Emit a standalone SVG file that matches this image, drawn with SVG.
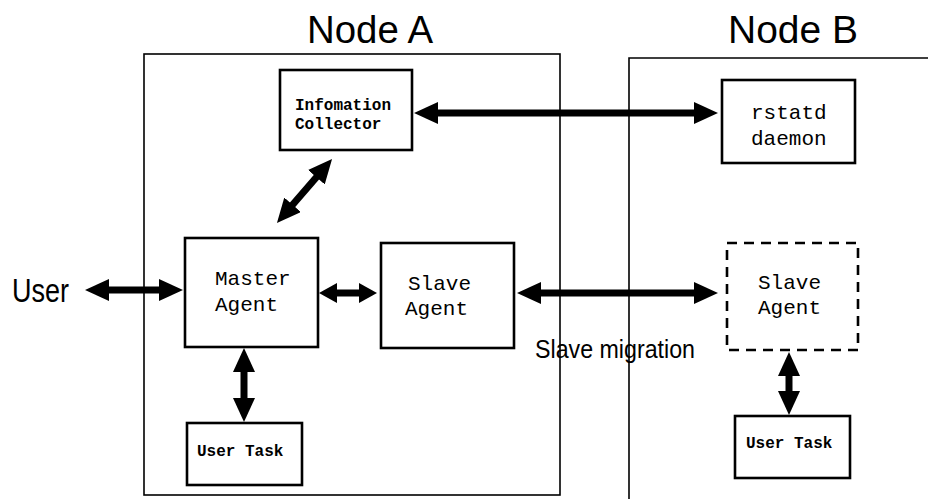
<svg xmlns="http://www.w3.org/2000/svg" width="928" height="499" viewBox="0 0 928 499">
<defs>
<style>
.cont{fill:none;stroke:#000;stroke-width:1.6}
.box{fill:#fff;stroke:#000;stroke-width:2.6}
.dash{fill:none;stroke:#000;stroke-width:2.6;stroke-dasharray:10 7}
.mono{font-family:"Liberation Mono","DejaVu Sans Mono",monospace;fill:#000}
.sm{font-size:16px;font-weight:bold}
.lg{font-size:21px}
.sans{font-family:"Liberation Sans",Arial,sans-serif;fill:#000}
.arr{stroke:#000;stroke-width:7;fill:none;marker-start:url(#ah);marker-end:url(#ah)}
.arrs{stroke:#000;stroke-width:7;fill:none;marker-start:url(#ahs);marker-end:url(#ahs)}
</style>
<marker id="ah" markerUnits="userSpaceOnUse" markerWidth="24" markerHeight="22" refX="4" refY="11" orient="auto-start-reverse" viewBox="0 0 24 22">
<path d="M0,0 L24,11 L0,22 z" fill="#000"/>
</marker>
<marker id="ahs" markerUnits="userSpaceOnUse" markerWidth="18" markerHeight="20" refX="2" refY="10" orient="auto-start-reverse" viewBox="0 0 18 20">
<path d="M0,0 L18,10 L0,20 z" fill="#000"/>
</marker>
</defs>
<rect width="928" height="499" fill="#fff"/>

<g id="nodeA">
<rect class="cont" x="144" y="54" width="416" height="441"/>
<text class="sans" x="307" y="43" font-size="38" textLength="126" lengthAdjust="spacingAndGlyphs">Node A</text>
</g>
<g id="nodeB">
<path class="cont" d="M629,499 L629,58 L928,58"/>
<text class="sans" x="728" y="43" font-size="38" textLength="130" lengthAdjust="spacingAndGlyphs">Node B</text>
</g>

<g id="connectors">
<line class="arr" x1="434" y1="113" x2="698" y2="113"/>
<line class="arr" x1="319" y1="174.2" x2="290" y2="207.8"/>
<line class="arr" x1="105" y1="290" x2="163" y2="290"/>
<line class="arrs" x1="335" y1="293" x2="361" y2="293"/>
<line class="arr" x1="537" y1="293" x2="698" y2="293"/>
<line class="arr" x1="244" y1="368" x2="244" y2="402"/>
<line class="arr" x1="789" y1="372" x2="789" y2="395"/>
</g>

<g id="user">
<text class="sans" x="12" y="302" font-size="33" textLength="57" lengthAdjust="spacingAndGlyphs">User</text>
</g>

<g id="infoCollector">
<rect class="box" x="280" y="70" width="132" height="80"/>
<text class="mono sm" x="295" y="110">Infomation</text>
<text class="mono sm" x="295" y="129">Collector</text>
</g>

<g id="rstatd">
<rect class="box" x="722" y="80" width="133" height="83"/>
<text class="mono lg" x="751" y="119">rstatd</text>
<text class="mono lg" x="751" y="145">daemon</text>
</g>

<g id="masterAgent">
<rect class="box" x="185" y="238" width="133" height="109"/>
<text class="mono lg" x="215" y="285">Master</text>
<text class="mono lg" x="215" y="311">Agent</text>
</g>

<g id="slaveAgentA">
<rect class="box" x="381" y="243" width="133" height="105"/>
<text class="mono lg" x="408" y="290">Slave</text>
<text class="mono lg" x="405" y="315">Agent</text>
</g>

<g id="slaveAgentB">
<rect class="dash" x="727" y="243" width="131" height="107"/>
<text class="mono lg" x="758" y="289">Slave</text>
<text class="mono lg" x="758" y="314">Agent</text>
</g>

<g id="migrationLabel">
<text class="sans" x="535" y="358" font-size="26" textLength="160" lengthAdjust="spacingAndGlyphs">Slave migration</text>
</g>

<g id="userTaskA">
<rect class="box" x="187" y="423" width="115" height="62"/>
<text class="mono sm" x="197" y="456">User Task</text>
</g>

<g id="userTaskB">
<rect class="box" x="735" y="416" width="115" height="62"/>
<text class="mono sm" x="746" y="448">User Task</text>
</g>
</svg>
